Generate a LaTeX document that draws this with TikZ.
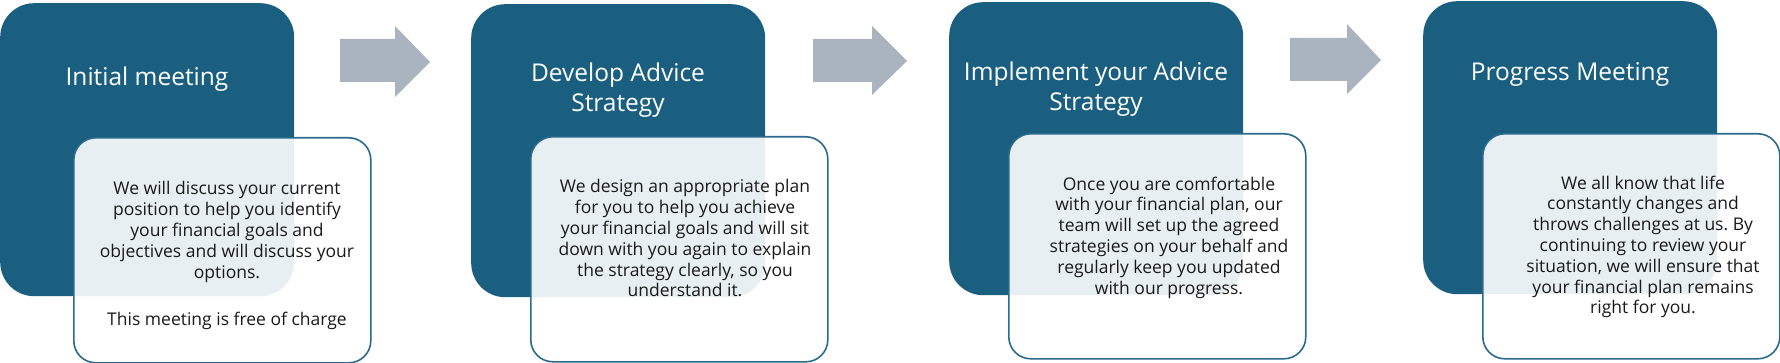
\documentclass[tikz,border=0pt]{standalone}
\usepackage{fontspec}
\setmainfont{Open Sans}
\frenchspacing
\definecolor{darkblue}{HTML}{1A5F80}
\definecolor{edgeblue}{HTML}{2A6A8C}
\definecolor{arrowgrey}{HTML}{A9B4BF}
\definecolor{bodyink}{HTML}{1A1A1A}
\tikzset{
  darkbox/.style={fill=darkblue, draw=none, rounded corners=34pt, minimum width=294pt, minimum height=293pt, anchor=north west, inner sep=0pt},
  lightbox/.style={draw=edgeblue, line width=1.6pt, fill=white, fill opacity=0.9, rounded corners=22pt, minimum width=297pt, minimum height=225pt, anchor=north west, inner sep=0pt},
  titletext/.style={text=white, font=\fontsize{24.5}{30}\selectfont, align=center, inner sep=0pt, anchor=north},
  bodytext/.style={text=bodyink, font=\fontsize{17.5}{20.8}\selectfont, align=center, inner sep=0pt, anchor=north},
  steparrow/.style={fill=arrowgrey, draw=none}
}
\begin{document}
\begin{tikzpicture}[x=1pt, y=-1pt]
\useasboundingbox (0,0) rectangle (1780,363);

% panel 1
\node[darkbox] (d1) at (0,3) {};
\node[lightbox] (w1) at (73,137) {};
\node[titletext] (t1) at (147,67) {Initial meeting};
\node[bodytext] (b1) at (227,181.5) {We will discuss your current\\position to help you identify\\your financial goals and\\objectives and will discuss your\\options.};
\node[bodytext] (n1) at (227,312) {This meeting is free of charge};

% panel 2
\node[darkbox] (d2) at (471,4) {};
\node[lightbox] (w2) at (530,136) {};
\node[titletext] (t2) at (618,63) {Develop Advice\\Strategy};
\node[bodytext] (b2) at (685,179.5) {We design an appropriate plan\\for you to help you achieve\\your financial goals and will sit\\down with you again to explain\\the strategy clearly, so you\\understand it.};

% panel 3
\node[darkbox] (d3) at (949,2) {};
\node[lightbox] (w3) at (1008,133) {};
\node[titletext] (t3) at (1096,61.5) {Implement your Advice\\Strategy};
\node[bodytext] (b3) at (1169,176.5) {Once you are comfortable\\with your financial plan, our\\team will set up the agreed\\strategies on your behalf and\\regularly keep you updated\\with our progress.};

% panel 4
\node[darkbox] (d4) at (1423,1) {};
\node[lightbox] (w4) at (1482,133) {};
\node[titletext] (t4) at (1570,62.5) {Progress Meeting};
\node[bodytext] (b4) at (1643,175.5) {We all know that life\\constantly changes and\\throws challenges at us. By\\continuing to review your\\situation, we will ensure that\\your financial plan remains\\right for you.};

% arrows
\fill[steparrow] (340,39) -- (395,39) -- (395,26) -- (430,62) -- (395,97) -- (395,82) -- (340,82) -- cycle;
\fill[steparrow] (813,39) -- (872,39) -- (872,26) -- (907,61) -- (872,95) -- (872,82) -- (813,82) -- cycle;
\fill[steparrow] (1290,38) -- (1347,38) -- (1347,24) -- (1381,60) -- (1347,94) -- (1347,81) -- (1290,81) -- cycle;
\end{tikzpicture}
\end{document}
